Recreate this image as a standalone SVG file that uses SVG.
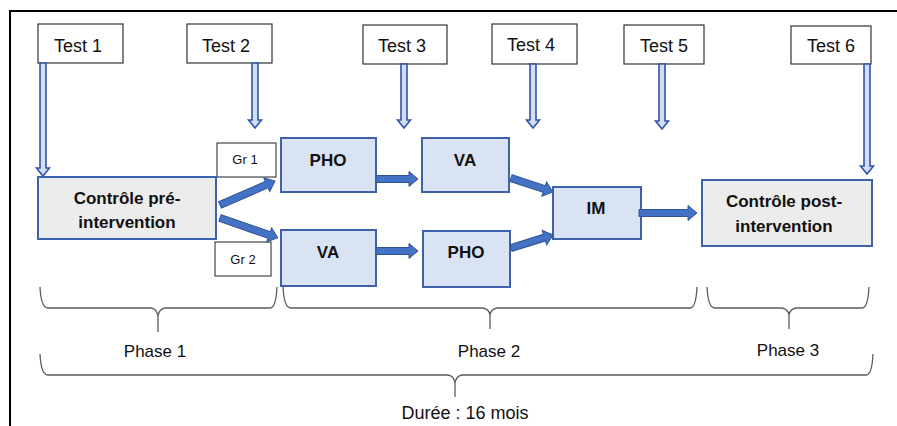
<svg xmlns="http://www.w3.org/2000/svg" width="897" height="426" viewBox="0 0 897 426">
<style>
.frame{stroke:#000;stroke-width:2;fill:none}
.test{fill:#fff;stroke:#333;stroke-width:1.2}
.ttxt{font-family:"Liberation Sans",Arial,sans-serif;font-size:18px;fill:#111;text-anchor:middle}
.gr{fill:#fff;stroke:#222;stroke-width:1}
.grtxt{font-family:"Liberation Sans",Arial,sans-serif;font-size:13px;fill:#111;text-anchor:middle}
.blue{fill:#dae3f3;stroke:#3d61ad;stroke-width:2}
.gray{fill:#ececec;stroke:#3d61ad;stroke-width:2}
.ntxt{font-family:"Liberation Sans",Arial,sans-serif;font-size:17px;font-weight:bold;fill:#111;text-anchor:middle}
.hollow{fill:#d3dcf1;stroke:#2f55a4;stroke-width:1.6}
.block{fill:#4472c4;stroke:#2f5597;stroke-width:1}
.brace{fill:none;stroke:#5a5a5a;stroke-width:1.3}
.ptxt{font-family:"Liberation Sans",Arial,sans-serif;font-size:17px;fill:#111;text-anchor:middle}
</style>
<g id="frame"><path class="frame" d="M10,426 L10,11 L897,11"/></g>

<g id="test1"><rect class="test" x="38" y="24" width="85" height="39"/><text class="ttxt" x="78" y="52">Test 1</text></g>
<g id="test2"><rect class="test" x="187" y="24" width="85" height="39"/><text class="ttxt" x="226" y="52">Test 2</text></g>
<g id="test3"><rect class="test" x="363" y="25" width="84" height="39"/><text class="ttxt" x="402" y="52">Test 3</text></g>
<g id="test4"><rect class="test" x="492" y="24" width="85" height="40"/><text class="ttxt" x="531" y="51">Test 4</text></g>
<g id="test5"><rect class="test" x="624" y="25" width="80" height="39"/><text class="ttxt" x="664" y="52">Test 5</text></g>
<g id="test6"><rect class="test" x="791" y="26" width="80" height="38"/><text class="ttxt" x="831" y="52">Test 6</text></g>

<g id="gr1"><rect class="gr" x="217" y="143" width="59" height="34"/><text class="grtxt" x="245" y="164">Gr 1</text></g>
<g id="gr2"><rect class="gr" x="215" y="242" width="56" height="34"/><text class="grtxt" x="243" y="264">Gr 2</text></g>

<g id="pre"><rect class="gray" x="38" y="177" width="178" height="62"/><text class="ntxt" x="127" y="204">Contrôle pré-</text><text class="ntxt" x="127" y="228">intervention</text></g>
<g id="pho1"><rect class="blue" x="281" y="138" width="95" height="54"/><text class="ntxt" x="328" y="166">PHO</text></g>
<g id="va1"><rect class="blue" x="422" y="138" width="87" height="54"/><text class="ntxt" x="465" y="166">VA</text></g>
<g id="va2"><rect class="blue" x="281" y="230" width="95" height="56"/><text class="ntxt" x="328" y="258">VA</text></g>
<g id="pho2"><rect class="blue" x="423" y="231" width="87" height="56"/><text class="ntxt" x="466" y="258">PHO</text></g>
<g id="im"><rect class="blue" x="553" y="187" width="88" height="52"/><text class="ntxt" x="596" y="214">IM</text></g>
<g id="post"><rect class="gray" x="702" y="180" width="170" height="66"/><text class="ntxt" x="784" y="207">Contrôle post-</text><text class="ntxt" x="784" y="232">intervention</text></g>

<g id="connectors">
<path class="hollow" d="M40,63 L40,168 L36.5,168 L43,176 L49.5,168 L46,168 L46,63 Z"/>
<path class="hollow" d="M252,63 L252,120 L248.5,120 L255,128 L261.5,120 L258,120 L258,63 Z"/>
<path class="hollow" d="M401,64 L401,120 L397.5,120 L404,128 L410.5,120 L407,120 L407,64 Z"/>
<path class="hollow" d="M530,64 L530,120 L526.5,120 L533,128 L539.5,120 L536,120 L536,64 Z"/>
<path class="hollow" d="M659,64 L659,121 L655.5,121 L662,129 L668.5,121 L665,121 L665,64 Z"/>
<path class="hollow" d="M864,64 L864,166 L860.5,166 L867,174 L873.5,166 L870,166 L870,64 Z"/>

<polygon class="block" transform="translate(220,205) rotate(-23.6)" points="0,-3.5 51,-3.5 51,-7.5 60,0 51,7.5 51,3.5 0,3.5"/>
<polygon class="block" transform="translate(220,218) rotate(19)" points="0,-3.5 52,-3.5 52,-7.5 61,0 52,7.5 52,3.5 0,3.5"/>
<polygon class="block" transform="translate(376,179)" points="0,-3.5 33,-3.5 33,-7.5 42,0 33,7.5 33,3.5 0,3.5"/>
<polygon class="block" transform="translate(376,251)" points="0,-3.5 33,-3.5 33,-7.5 42,0 33,7.5 33,3.5 0,3.5"/>
<polygon class="block" transform="translate(511,178) rotate(18.4)" points="0,-3.5 35,-3.5 35,-7.5 44,0 35,7.5 35,3.5 0,3.5"/>
<polygon class="block" transform="translate(511,248) rotate(-17.2)" points="0,-3.5 35,-3.5 35,-7.5 44,0 35,7.5 35,3.5 0,3.5"/>
<polygon class="block" transform="translate(639,213)" points="0,-3.5 49,-3.5 49,-7.5 58,0 49,7.5 49,3.5 0,3.5"/>
</g>

<g id="braces">
<path class="brace" d="M40,287 Q41,308 48,308 L151,308 Q157,309 158,316 L158,332 M158,316 Q159,309 165,308 L270,308 Q276,308 277,287"/>
<path class="brace" d="M283,287 Q284,308 291,308 L483,308 Q489,309 490,315 L490,329 M490,315 Q491,309 497,308 L690,308 Q696,308 697,287"/>
<path class="brace" d="M707,287 Q708,308 715,308 L782,308 Q788,309 789,315 L789,329 M789,315 Q790,309 796,308 L862,308 Q868,308 869,287"/>
<path class="brace" d="M40,354 Q41,375 48,375 L448,375 Q454,376 455,383 L455,397 M455,383 Q456,376 462,375 L866,375 Q872,375 873,354"/>
</g>
<g id="labels">
<text class="ptxt" x="155" y="357">Phase 1</text>
<text class="ptxt" x="489" y="357">Phase 2</text>
<text class="ptxt" x="788" y="356">Phase 3</text>
<text class="ptxt" x="465" y="419" style="font-size:18px">Durée : 16 mois</text>
</g>
</svg>
